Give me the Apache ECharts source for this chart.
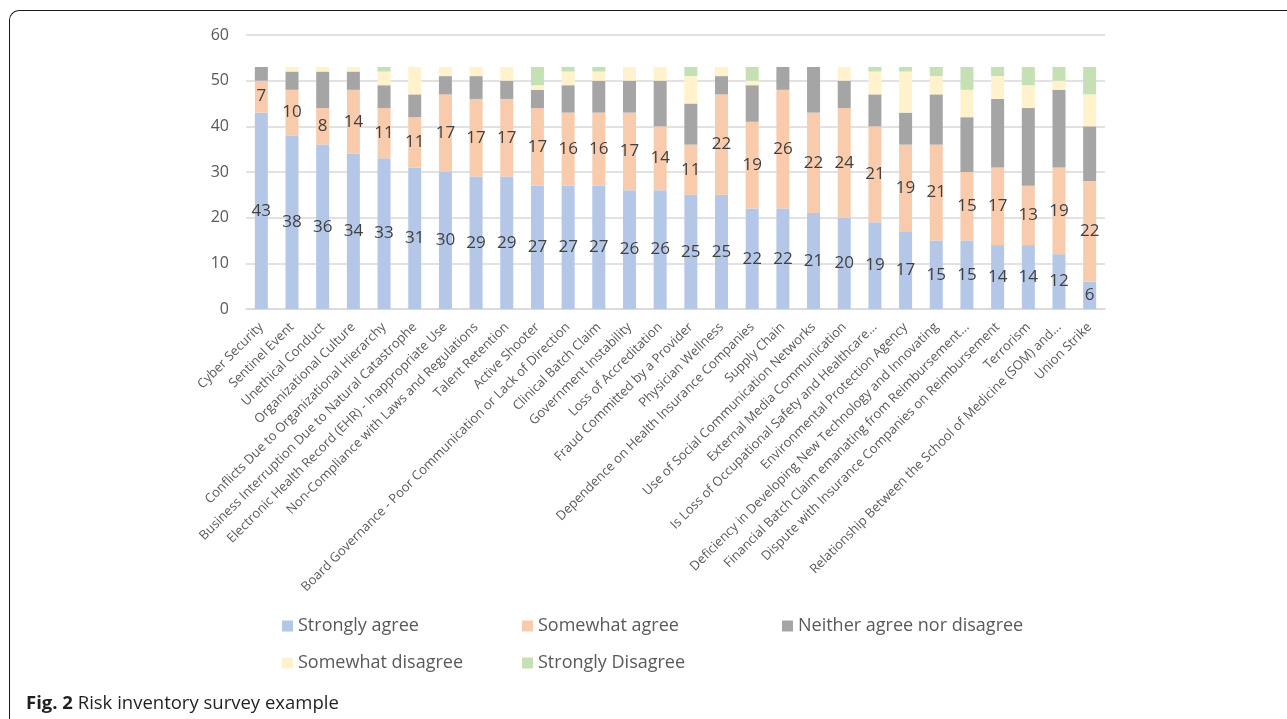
<!DOCTYPE html>
<html>
<head>
<meta charset="utf-8">
<title>Risk inventory survey example</title>
<script src="https://cdn.jsdelivr.net/npm/echarts@6/dist/echarts.min.js"></script>
<style>
  html, body { margin: 0; padding: 0; background: #ffffff; }
  #frame {
    position: absolute; left: 9px; top: 10px; width: 1300px; height: 730px;
    border-left: 1.6px solid #1a1a1a; border-top: 1.6px solid #1a1a1a;
    border-top-left-radius: 10px; box-sizing: border-box;
  }
  #chart { position: absolute; left: 0; top: 0; width: 1287px; height: 719px; }
</style>
</head>
<body>
<div id="frame"></div>
<div id="chart"></div>
<script>
// Risk categories, in survey order
const categories = [
  'Cyber Security',
  'Sentinel Event',
  'Unethical Conduct',
  'Organizational Culture',
  'Conflicts Due to Organizational Hierarchy',
  'Business Interruption Due to Natural Catastrophe',
  'Electronic Health Record (EHR) - Inappropriate Use',
  'Non-Compliance with Laws and Regulations',
  'Talent Retention',
  'Active Shooter',
  'Board Governance - Poor Communication or Lack of Direction',
  'Clinical Batch Claim',
  'Government Instability',
  'Loss of Accreditation',
  'Fraud Committed by a Provider',
  'Physician Wellness',
  'Dependence on Health Insurance Companies',
  'Supply Chain',
  'Use of Social Communication Networks',
  'External Media Communication',
  'Is Loss of Occupational Safety and Healthcare...',
  'Environmental Protection Agency',
  'Deficiency in Developing New Technology and Innovating',
  'Financial Batch Claim emanating from Reimbursement...',
  'Dispute with Insurance Companies on Reimbursement',
  'Terrorism',
  'Relationship Between the School of Medicine (SOM) and...',
  'Union Strike'
];

// Response counts per category
const stronglyAgree    = [43, 38, 36, 34, 33, 31, 30, 29, 29, 27, 27, 27, 26, 26, 25, 25, 22, 22, 21, 20, 19, 17, 15, 15, 14, 14, 12, 6];
const somewhatAgree    = [7, 10, 8, 14, 11, 11, 17, 17, 17, 17, 16, 16, 17, 14, 11, 22, 19, 26, 22, 24, 21, 19, 21, 15, 17, 13, 19, 22];
const neitherAgree     = [3, 4, 8, 4, 5, 5, 4, 5, 4, 4, 6, 7, 7, 10, 9, 4, 8, 5, 10, 6, 7, 7, 11, 12, 15, 17, 17, 12];
const somewhatDisagree = [0, 1, 1, 1, 3, 6, 2, 2, 3, 1, 3, 2, 3, 3, 6, 2, 1, 0, 0, 3, 5, 9, 4, 6, 5, 5, 2, 7];
const stronglyDisagree = [0, 0, 0, 0, 1, 0, 0, 0, 0, 4, 1, 1, 0, 0, 2, 0, 3, 0, 0, 0, 1, 1, 2, 5, 2, 4, 3, 6];

const seriesNames = ['Strongly agree', 'Somewhat agree', 'Neither agree nor disagree', 'Somewhat disagree', 'Strongly Disagree'];
const seriesData = [stronglyAgree, somewhatAgree, neitherAgree, somewhatDisagree, stronglyDisagree];
const seriesColors = ['#b4c7e7', '#f8cbad', '#a5a5a5', '#fff2cc', '#c5e0b4'];

// Y axis ticks
const yMin = 0, yMax = 60, yStep = 10;

const FONT = "'Open Sans', 'Noto Sans', sans-serif";

// Legend laid out as two rows of fixed-width columns
const legendSlots = [
  { left: 282, top: 617 },
  { left: 522, top: 617 },
  { left: 782, top: 617 },
  { left: 282, top: 654 },
  { left: 522, top: 654 }
];

const chart = echarts.init(document.getElementById('chart'), null, { renderer: 'canvas' });

const option = {
  animation: false,
  textStyle: { fontFamily: FONT },
  title: {
    left: 26, top: 694, padding: 0,
    text: '{b|Fig. 2} Risk inventory survey example',
    textStyle: {
      fontFamily: FONT, fontSize: 18.5, fontWeight: 'normal', color: '#231f20',
      rich: { b: { fontFamily: FONT, fontSize: 18.5, fontWeight: 'bold', color: '#231f20' } }
    }
  },
  legend: seriesNames.map((name, i) => ({
    data: [name],
    left: legendSlots[i].left,
    top: legendSlots[i].top,
    padding: 0,
    itemWidth: 11,
    itemHeight: 11,
    icon: 'rect',
    textStyle: { fontFamily: FONT, fontSize: 18, color: '#595959' }
  })),
  grid: { left: 246, right: 182, top: 35, height: 274, containLabel: false },
  xAxis: {
    type: 'category',
    data: categories,
    axisLine: { show: true, lineStyle: { color: '#d9d9d9', width: 1.5 } },
    axisTick: { show: false },
    axisLabel: {
      interval: 0, rotate: 45, margin: 16,
      fontFamily: FONT, fontSize: 13, color: '#595959'
    }
  },
  yAxis: {
    type: 'value',
    min: yMin, max: yMax, interval: yStep,
    axisLine: { show: false },
    axisTick: { show: false },
    splitLine: { lineStyle: { color: '#d9d9d9', width: 1.5 } },
    axisLabel: { margin: 17, fontFamily: FONT, fontSize: 16, color: '#595959' }
  },
  series: seriesNames.map((name, i) => ({
    name: name,
    type: 'bar',
    stack: 'responses',
    barWidth: 13,
    data: seriesData[i],
    itemStyle: { color: seriesColors[i] },
    label: {
      show: i < 2,
      position: 'inside',
      fontFamily: FONT,
      fontSize: 17,
      color: '#404040'
    }
  }))
};

chart.setOption(option);
</script>
</body>
</html>
